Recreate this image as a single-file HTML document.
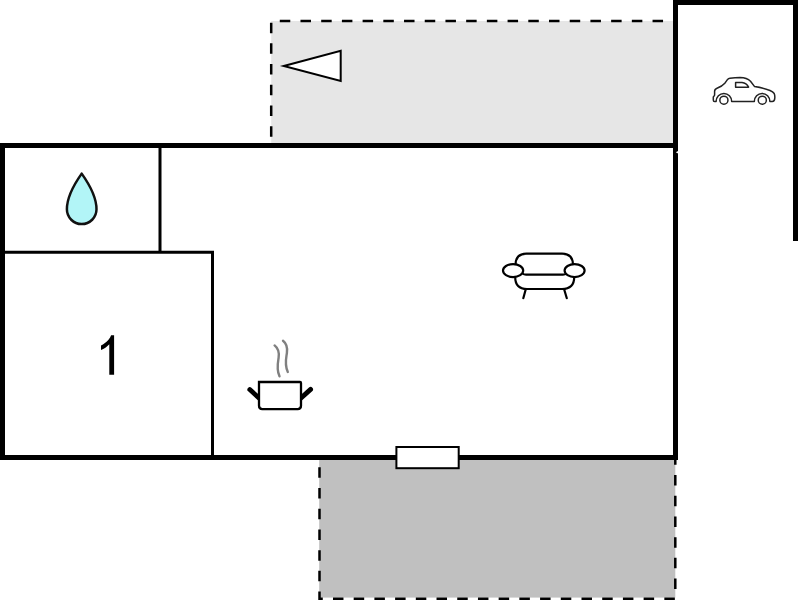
<!DOCTYPE html>
<html>
<head>
<meta charset="utf-8">
<style>
html,body{margin:0;padding:0;background:#fff;width:798px;height:600px;overflow:hidden;}
svg{display:block;position:absolute;left:0;top:0;}
</style>
</head>
<body>
<svg width="798" height="600" viewBox="0 0 798 600">
  <!-- top terrace -->
  <rect x="271.2" y="21" width="403" height="124" fill="#e6e6e6"/>
  <path d="M271.2,143 V21 H668" fill="none" stroke="#000" stroke-width="2.5" stroke-dasharray="10.5 10.21" stroke-dashoffset="14.4"/>
  <!-- bottom terrace -->
  <rect x="319.2" y="457" width="356.1" height="140.6" fill="#c0c0c0"/>
  <path d="M319.5,457 V598.8 H675.3 V457" fill="none" stroke="#000" stroke-width="2.5" stroke-dasharray="10.5 10.21" stroke-dashoffset="10.4"/>

  <!-- garage walls -->
  <path d="M675.5,241 V2.5 H795.5 V241" fill="none" stroke="#000" stroke-width="5"/>
  <!-- main outer walls -->
  <rect x="2.5" y="145.5" width="673" height="312" fill="none" stroke="#000" stroke-width="5"/>
  <!-- interior walls -->
  <path d="M160,148 V252.2 M5,252.2 H212.5 V455" fill="none" stroke="#000" stroke-width="3"/>

  <polygon points="678.5,150.8 675.8,152.3 678.5,153.8" fill="#fff"/>
  <!-- window -->
  <rect x="396.4" y="447" width="62.3" height="21.2" fill="#fff" stroke="#000" stroke-width="2"/>

  <!-- triangle -->
  <polygon points="283.8,66 340.7,50.8 340.7,81" fill="#fff" stroke="#000" stroke-width="2" stroke-linejoin="miter"/>

  <!-- droplet -->
  <path d="M81.7,173.6 C77.5,179.5 66.9,196 66.9,209.3 A14.8,14.8 0 0 0 96.5,209.3 C96.5,196 85.9,179.5 81.7,173.6 Z" fill="#b2f5f7" stroke="#111" stroke-width="2.5" stroke-linejoin="round"/>

  <!-- number -->
  <path d="M114.1,335.2 V374.8 H109.3 V344.2 C107,346.8 104,348.8 101,350.1 V345.5 C103.5,344.2 106.5,342.2 108.5,339.7 C109.8,338.1 110.6,336.8 111.1,335.3 Z" fill="#000"/>

  <!-- pot -->
  <path d="M274.6,345.4 C278.5,348.5 279.4,353 278.6,358 C277.6,364 276.3,369.5 279.5,376.3" fill="none" stroke="#808080" stroke-width="2.4" stroke-linecap="round"/>
  <path d="M283,340.8 C286.5,343.5 287.6,348 286.9,353 C286.1,358.5 284.3,364.5 287.8,372" fill="none" stroke="#808080" stroke-width="2.4" stroke-linecap="round"/>
  <path d="M249.8,389.6 L262,400.8 M310.6,389.4 L298,400.8" fill="none" stroke="#000" stroke-width="4.8" stroke-linecap="round"/>
  <path d="M259,382 H300 Q301,382 301,383 V405.8 Q301,409.1 297.7,409.1 H262.3 Q259,409.1 259,405.8 Z" fill="#fff" stroke="#000" stroke-width="2.3"/>
  

  <!-- armchair -->
  <g fill="none" stroke="#000" stroke-width="2.2">
    <path d="M515.5,264.5 V265 Q515.5,253.6 526.5,253.6 H562 Q573,253.6 573,265 V264.5"/>
    <path d="M522.5,273.5 Q524,274.7 526,274.7 H563 Q565,274.7 566.5,273.5"/>
    <path d="M515.2,277 Q515.2,289 527,289 H562 Q574.2,289 574.2,277"/>
    <ellipse cx="513.1" cy="270.6" rx="10.1" ry="6.5"/>
    <ellipse cx="574.6" cy="270.6" rx="10" ry="6.5"/>
    <path d="M525.7,289.5 L523.3,298.2 M564.2,289.5 L566.8,298.2" stroke-linecap="round"/>
  </g>
  <!-- car -->
  <g fill="none" stroke="#222" stroke-width="1.5" stroke-linejoin="round">
    <path d="M716.1,101.6 H714.6 Q713.3,101.6 713.3,100 V97.2 Q713.3,96.3 714.3,95.8 Q714.6,95.4 714.6,94.5 V91.5 Q714.6,89.2 717,88.3 Q722,86.3 724.8,83.2 Q726.5,81 727.6,79.4 Q728.4,78.5 730,78.2 Q735,77.6 740,77.6 Q747,77.8 750.5,81.2 L754.6,86.6 Q764,88 770,90.5 Q773,91.8 774.2,93.5 Q775,95.5 774.8,98 Q774.6,101.6 772.3,101.6 H769.9 A7.8,8.2 0 0 0 754.3,101.6 H731.7 A7.8,8.2 0 0 0 716.1,101.6 Z"/>
    <path d="M735.6,82.6 H742 Q746.5,83 748.6,87.2 H735.6 Z"/>
    <circle cx="723.9" cy="100.2" r="4.05"/>
    <circle cx="762.3" cy="100.2" r="4.05"/>
  </g>
</svg>
</body>
</html>
